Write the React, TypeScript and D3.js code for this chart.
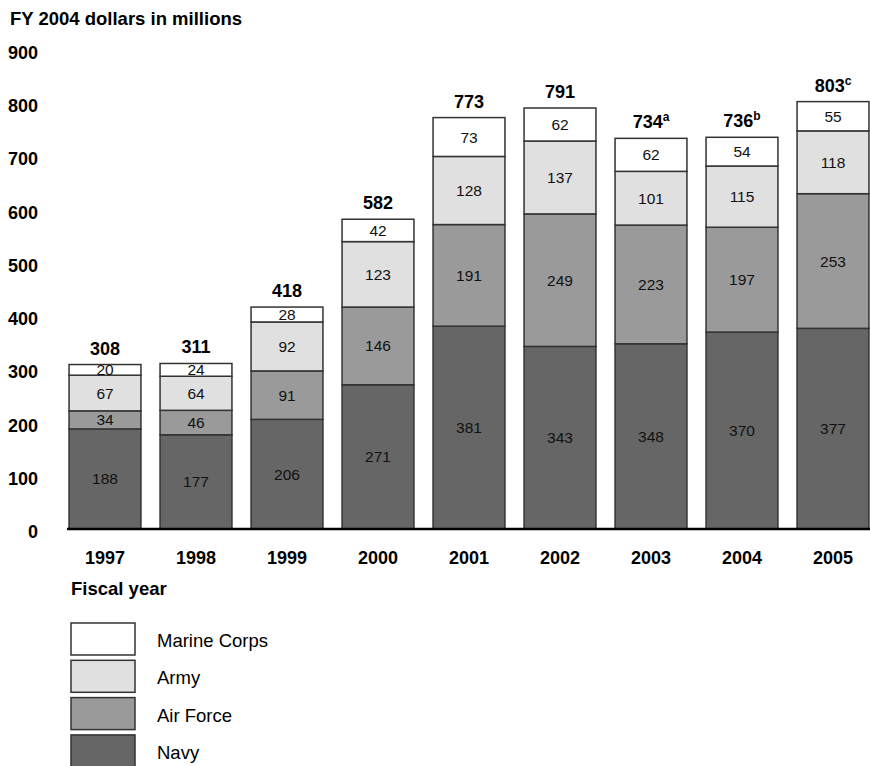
import React, { useRef, useEffect } from 'react';
import * as d3 from 'd3';

const years = ['1997', '1998', '1999', '2000', '2001', '2002', '2003', '2004', '2005'];
const navy = [188, 177, 206, 271, 381, 343, 348, 370, 377];
const airForce = [34, 46, 91, 146, 191, 249, 223, 197, 253];
const army = [67, 64, 92, 123, 128, 137, 101, 115, 118];
const marineCorps = [20, 24, 28, 42, 73, 62, 62, 54, 55];
const totals = [308, 311, 418, 582, 773, 791, 734, 736, 803];
const notes = ['', '', '', '', '', '', 'a', 'b', 'c'];
const yTicks = [0, 100, 200, 300, 400, 500, 600, 700, 800, 900];

const services = ['Navy', 'Air Force', 'Army', 'Marine Corps'];
const serviceValues = [navy, airForce, army, marineCorps];
const serviceColors = ['#666666', '#9a9a9a', '#e0e0e0', '#ffffff'];

const W = 870;
const H = 766;
const FONT = '"Liberation Sans", Arial, Helvetica, sans-serif';

const App: React.FC = () => {
    const ref = useRef<SVGSVGElement>(null);

    useEffect(() => {
        if (!ref.current) return;
        const svg = d3.select(ref.current);
        svg.selectAll('*').remove();

        const x = d3.scaleBand<string>()
            .domain(years)
            .range([59.5, 878.5])
            .paddingInner(0.21)
            .paddingOuter(0.105);

        const y = d3.scaleLinear().domain([0, 900]).range([529, 50]);

        const rows = years.map((yr, i) => {
            const row: Record<string, any> = { year: yr };
            services.forEach((s, j) => { row[s] = serviceValues[j][i]; });
            return row;
        });
        const stacked = d3.stack<Record<string, any>>().keys(services)(rows);

        svg.append('text')
            .attr('x', 10).attr('y', 25)
            .attr('font-family', FONT).attr('font-weight', 'bold').attr('font-size', 18.5)
            .text('FY 2004 dollars in millions');

        // y tick labels
        svg.selectAll('.ytick')
            .data(yTicks)
            .enter()
            .append('text')
            .attr('x', 38)
            .attr('y', d => y(d) + 9)
            .attr('text-anchor', 'end')
            .attr('font-family', FONT).attr('font-weight', 'bold').attr('font-size', 18)
            .text(d => String(d));

        // bars
        stacked.forEach((layer, j) => {
            const g = svg.append('g');
            g.selectAll('rect')
                .data(layer)
                .enter()
                .append('rect')
                .attr('x', d => x(d.data.year)!)
                .attr('y', d => y(d[1]))
                .attr('width', x.bandwidth())
                .attr('height', d => y(d[0]) - y(d[1]))
                .attr('fill', serviceColors[j])
                .attr('stroke', '#333')
                .attr('stroke-width', 1.5);
            g.selectAll('text')
                .data(layer)
                .enter()
                .append('text')
                .attr('x', d => x(d.data.year)! + x.bandwidth() / 2)
                .attr('y', d => (y(d[0]) + y(d[1])) / 2 + 5.5)
                .attr('text-anchor', 'middle')
                .attr('font-family', FONT).attr('font-size', 15.5).attr('fill', '#111')
                .text(d => String(d[1] - d[0]));
        });

        // totals
        const tot = svg.selectAll('.total')
            .data(years)
            .enter()
            .append('text')
            .attr('x', d => x(d)! + x.bandwidth() / 2)
            .attr('y', (d, i) => y(totals[i]) - 10)
            .attr('text-anchor', 'middle')
            .attr('font-family', FONT).attr('font-weight', 'bold').attr('font-size', 18);
        tot.append('tspan').text((d, i) => String(totals[i]));
        tot.append('tspan')
            .attr('font-size', 12)
            .attr('dy', -7)
            .text((d, i) => notes[i]);

        // baseline
        svg.append('line')
            .attr('x1', 67).attr('x2', W)
            .attr('y1', y(0)).attr('y2', y(0))
            .attr('stroke', '#000').attr('stroke-width', 2.5);

        // x labels
        svg.selectAll('.xlab')
            .data(years)
            .enter()
            .append('text')
            .attr('x', d => x(d)! + x.bandwidth() / 2)
            .attr('y', 564)
            .attr('text-anchor', 'middle')
            .attr('font-family', FONT).attr('font-weight', 'bold').attr('font-size', 18)
            .text(d => d);

        svg.append('text')
            .attr('x', 71).attr('y', 595)
            .attr('font-family', FONT).attr('font-weight', 'bold').attr('font-size', 18.5)
            .text('Fiscal year');

        // legend
        const legendOrder = [3, 2, 1, 0];
        const leg = svg.selectAll('.leg')
            .data(legendOrder)
            .enter()
            .append('g')
            .attr('transform', (d, i) => `translate(71, ${623 + i * 37.3})`);
        leg.append('rect')
            .attr('width', 64).attr('height', 32)
            .attr('fill', d => serviceColors[d])
            .attr('stroke', '#333').attr('stroke-width', 1.5);
        leg.append('text')
            .attr('x', 86).attr('y', 24)
            .attr('font-family', FONT).attr('font-size', 18.5)
            .text(d => services[d]);
    }, []);

    return (
        <svg ref={ref} width={W} height={H}
            style={{ position: 'absolute', left: 0, top: 0, background: '#fff' }} />
    );
};

export default App;
